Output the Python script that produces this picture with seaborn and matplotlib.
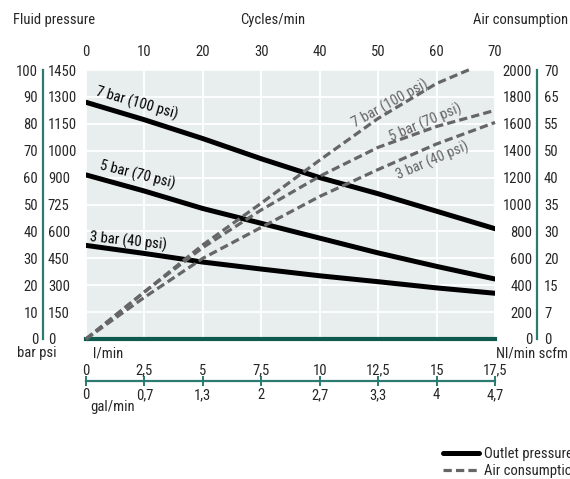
import matplotlib
matplotlib.use('Agg')
import matplotlib.pyplot as plt
from matplotlib import font_manager
from matplotlib.lines import Line2D
import pandas as pd
import seaborn as sns

# --- data ---
cycles = [0, 10, 20, 30, 40, 50, 60, 70]
outlet_7bar = [88, 81.5, 74.5, 67, 60, 54, 47.5, 41]
outlet_5bar = [61, 55, 48.5, 43, 37.5, 32, 27, 22.3]
outlet_3bar = [34.8, 31.8, 28.6, 26, 23.5, 21.3, 19, 17]

air_cycles_7bar = [0, 10, 20, 30, 40, 50, 60, 66]
air_7bar = [0, 350, 700, 1010, 1330, 1640, 1900, 2010]
air_5bar = [0, 350, 680, 960, 1210, 1425, 1580, 1700]
air_3bar = [0, 310, 600, 830, 1060, 1260, 1450, 1610]

series_names = ['7 bar (100 psi)', '5 bar (70 psi)', '3 bar (40 psi)']

bar_ticks = [0, 10, 20, 30, 40, 50, 60, 70, 80, 90, 100]
psi_labels = ['0', '150', '300', '450', '600', '725', '900', '1000', '1150', '1300', '1450']
nl_ticks = [0, 200, 400, 600, 800, 1000, 1200, 1400, 1600, 1800, 2000]
scfm_labels = ['0', '7', '15', '20', '30', '35', '40', '50', '55', '65', '70']
lmin_ticks = [0, 2.5, 5, 7.5, 10, 12.5, 15, 17.5]
lmin_labels = ['0', '2,5', '5', '7,5', '10', '12,5', '15', '17,5']
gal_labels = ['0', '0,7', '1,3', '2', '2,7', '3,3', '4', '4,7']

TEAL = '#2b7b70'
DARK_TEAL = '#0e5a4f'
GREY = '#666666'
BG = '#e8eeee'

sns.set_style('white')

# condensed face if there is one, otherwise Liberation Sans a bit smaller
installed = {f.name for f in font_manager.fontManager.ttflist}
FONT, FS = 'Liberation Sans', 9.5
for name in ['Liberation Sans Narrow', 'Roboto Condensed', 'DejaVu Sans Condensed']:
    if name in installed:
        FONT, FS = name, 10.5
        break
plt.rcParams['font.family'] = [FONT, 'DejaVu Sans']
plt.rcParams['font.size'] = FS

W, H = 570, 479


def fx(px):
    return px / W


def fy(py):
    return 1 - py / H


fig = plt.figure(figsize=(W / 100, H / 100), dpi=100)

# main plotting area
ax = fig.add_axes([fx(86), fy(339), fx(495) - fx(86), fy(70) - fy(339)])
ax.set_facecolor(BG)
ax.set_xlim(0, 70)
ax.set_ylim(0, 100)
ax.set_xticks(cycles)
ax.set_yticks(bar_ticks)
ax.grid(True, color='white', linewidth=1.3)
ax.set_axisbelow(True)
for s in ['top', 'left', 'right']:
    ax.spines[s].set_visible(False)
ax.spines['bottom'].set_color(DARK_TEAL)
ax.spines['bottom'].set_linewidth(3)

outlet = pd.DataFrame({
    'cycles': cycles * 3,
    'bar': outlet_7bar + outlet_5bar + outlet_3bar,
    'series': [n for n in series_names for _ in cycles],
})
sns.lineplot(data=outlet, x='cycles', y='bar', units='series', estimator=None,
             color='black', linewidth=3.6, ax=ax, zorder=4)
ax.set_xlabel('')
ax.set_ylabel('')

# air consumption on the right scale
ax2 = ax.twinx()
ax2.set_ylim(0, 2000)
for s in ax2.spines.values():
    s.set_visible(False)
ax2.set_yticks([])
air_sets = [(air_cycles_7bar, air_7bar), (cycles, air_5bar), (cycles, air_3bar)]
for (xc, yv) in air_sets:
    sns.lineplot(x=xc, y=yv, color=GREY, linewidth=2.3, ax=ax2,
                 linestyle=(0, (2.6, 1.3)), clip_on=False)
ax2.set_ylabel('')

# cycles/min on top (set after twinx so nothing resets it)
ax.tick_params(axis='x', top=False, bottom=False, labeltop=True, labelbottom=False,
               length=0, pad=8, labelsize=FS)
ax.tick_params(axis='y', left=False, labelleft=False, length=0)

# curve labels
for (x, y, rot), name in zip([(8.7, 87.5, -16), (8.7, 61, -14), (7.2, 36.4, -6)], series_names):
    ax.text(x, y, name, rotation=rot, ha='center', va='center', fontsize=FS,
            rotation_mode='anchor', color='black')
for (x, y, rot), name in zip([(52, 1750, 29), (58.2, 1610, 23), (59.3, 1325, 23)], series_names):
    ax2.text(x, y, name, rotation=rot, ha='center', va='center', fontsize=FS,
             rotation_mode='anchor', color=GREY)


def scale_axis(xpix, top, labels_left, labels_right, ticks, pad_right):
    """A bare vertical scale at xpix with labels on both sides of the spine."""
    rect = [fx(xpix), fy(339), 1e-5, fy(70) - fy(339)]
    a = fig.add_axes(rect)
    a.patch.set_visible(False)
    a.set_ylim(0, top)
    a.set_xticks([])
    a.set_yticks(ticks, labels_left)
    for s in ['top', 'bottom', 'right']:
        a.spines[s].set_visible(False)
    a.spines['left'].set_color(TEAL)
    a.spines['left'].set_linewidth(1.6)
    a.tick_params(axis='y', direction='inout', length=7, width=1.4, color=TEAL,
                  pad=0, labelsize=FS)
    b = fig.add_axes(rect)
    b.patch.set_visible(False)
    b.set_ylim(0, top)
    b.set_xticks([])
    b.set_yticks(ticks, labels_right)
    for s in b.spines.values():
        s.set_visible(False)
    b.tick_params(axis='y', left=False, right=False, labelleft=False, labelright=True,
                  length=0, pad=pad_right, labelsize=FS)


scale_axis(43, 100, [str(v) for v in bar_ticks], psi_labels, bar_ticks, 3.5)
scale_axis(537, 2000, [str(v) for v in nl_ticks], scfm_labels, nl_ticks, 5)

# bottom scale: l/min over the line, gal/min under it
brect = [fx(86), fy(381), fx(495) - fx(86), 1e-5]
axb = fig.add_axes(brect)
axb.patch.set_visible(False)
axb.set_xlim(0, 17.5)
axb.set_yticks([])
axb.set_xticks(lmin_ticks, lmin_labels)
for s in ['top', 'left', 'right']:
    axb.spines[s].set_visible(False)
axb.spines['bottom'].set_color(TEAL)
axb.spines['bottom'].set_linewidth(1.6)
axb.tick_params(axis='x', direction='inout', length=7, width=1.4, color=TEAL,
                top=False, bottom=True, labeltop=True, labelbottom=False, pad=-1, labelsize=FS)

axg = fig.add_axes(brect)
axg.patch.set_visible(False)
axg.set_xlim(0, 17.5)
axg.set_yticks([])
axg.set_xticks(lmin_ticks, gal_labels)
for s in axg.spines.values():
    s.set_visible(False)
axg.tick_params(axis='x', top=False, bottom=False, labeltop=False, labelbottom=True,
                length=0, pad=5, labelsize=FS)

# titles and unit captions
fig.text(fx(13), fy(20), 'Fluid pressure', ha='left', va='center', fontsize=FS)
fig.text(fx(273), fy(20), 'Cycles/min', ha='center', va='center', fontsize=FS)
fig.text(fx(568), fy(20), 'Air consumption', ha='right', va='center', fontsize=FS)
fig.text(fx(37), fy(353), 'bar psi', ha='center', va='center', fontsize=FS)
fig.text(fx(93), fy(353), 'l/min', ha='left', va='center', fontsize=FS)
fig.text(fx(568), fy(353), 'Nl/min scfm', ha='right', va='center', fontsize=FS)
fig.text(fx(90), fy(407), 'gal/min', ha='left', va='center', fontsize=FS)

handles = [Line2D([], [], color='black', linewidth=3.6),
           Line2D([], [], color=GREY, linewidth=2.3, linestyle=(0, (2.6, 1.3)))]
fig.legend(handles, ['Outlet pressure', 'Air consumption'], loc='upper left',
           bbox_to_anchor=(fx(443), fy(447)), frameon=False, fontsize=FS,
           handlelength=2.5, handletextpad=0.3, labelspacing=0.2,
           borderaxespad=0, borderpad=0)

fig.savefig('out.png', dpi=100)
